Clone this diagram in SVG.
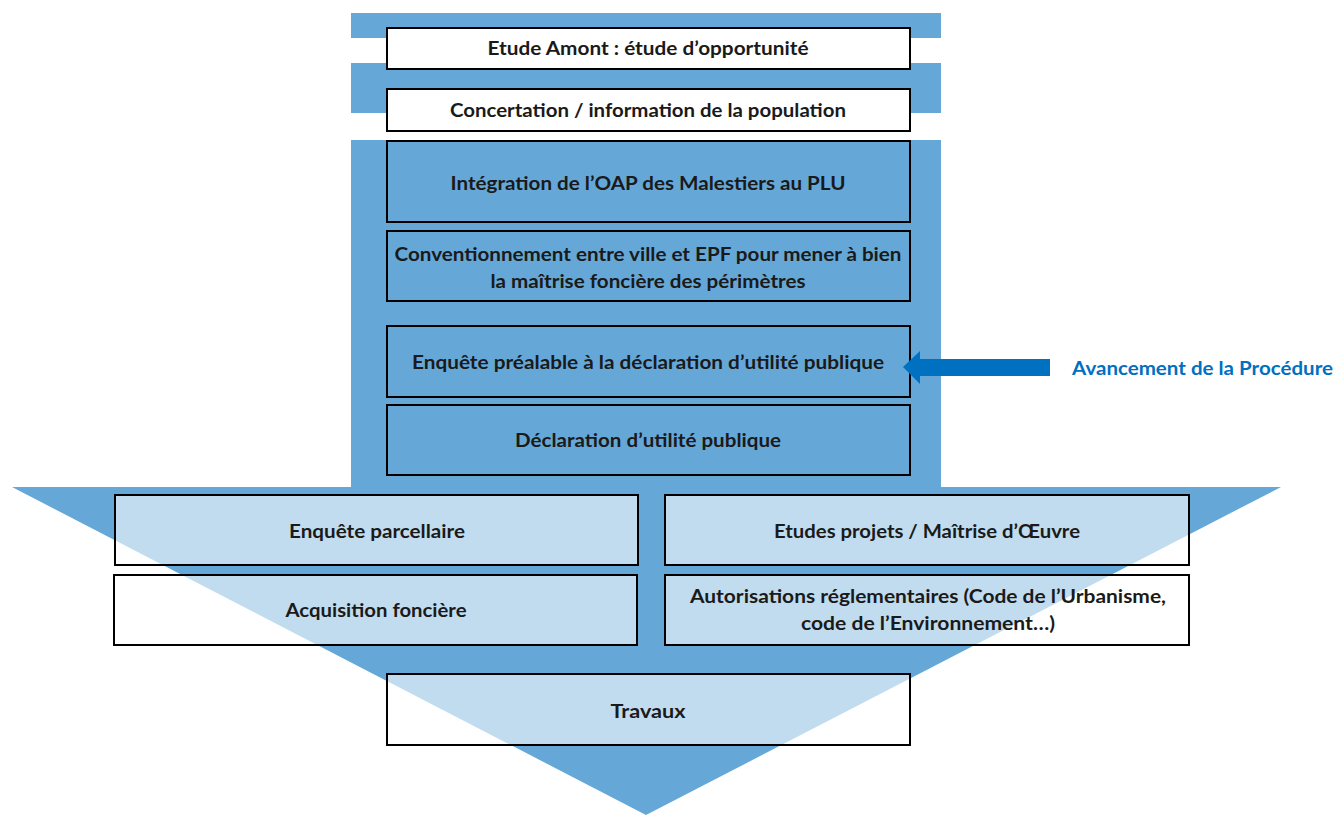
<svg xmlns="http://www.w3.org/2000/svg" width="1336" height="816" viewBox="0 0 1336 816">
<style>
.band{fill:#65a8d8}
.box{stroke:#000;stroke-width:2}
.w{fill:#fff}
.t{fill:none}
.s{fill:#fff;fill-opacity:0.6}
.lbl{font-family:Lato,"Open Sans",sans-serif;font-weight:700;font-size:18px;fill:#1a1a1a;text-anchor:middle}
.arr{fill:#0070c0}
.cap{font-family:Lato,"Open Sans",sans-serif;font-weight:700;font-size:18px;fill:#0070c0}
</style>
<g id="background">
<rect class="band" x="351" y="13" width="590" height="25"/>
<rect class="band" x="351" y="63" width="590" height="50"/>
<rect class="band" x="351" y="140" width="590" height="348"/>
<polygon class="band" points="12,487 1281,487 646,815"/>
</g>
<g id="n1"><rect class="box w" x="387" y="28" width="523" height="41"/><text class="lbl" x="648" y="55" textLength="321" lengthAdjust="spacingAndGlyphs">Etude Amont : étude d’opportunité</text></g>
<g id="n2"><rect class="box w" x="387" y="89" width="523" height="42"/><text class="lbl" x="648" y="117" textLength="396" lengthAdjust="spacingAndGlyphs">Concertation / information de la population</text></g>
<g id="n3"><rect class="box t" x="387" y="141" width="523" height="81"/><text class="lbl" x="648" y="190" textLength="395" lengthAdjust="spacingAndGlyphs">Intégration de l’OAP des Malestiers au PLU</text></g>
<g id="n4"><rect class="box t" x="387" y="231" width="523" height="70"/><text class="lbl" x="648" y="261" textLength="507" lengthAdjust="spacingAndGlyphs">Conventionnement entre ville et EPF pour mener à bien</text><text class="lbl" x="648" y="288" textLength="315" lengthAdjust="spacingAndGlyphs">la maîtrise foncière des périmètres</text></g>
<g id="n5"><rect class="box t" x="387" y="326" width="523" height="71"/><text class="lbl" x="648" y="369" textLength="472" lengthAdjust="spacingAndGlyphs">Enquête préalable à la déclaration d’utilité publique</text></g>
<g id="n6"><rect class="box t" x="387" y="405" width="523" height="70"/><text class="lbl" x="648" y="447" textLength="266" lengthAdjust="spacingAndGlyphs">Déclaration d’utilité publique</text></g>
<g id="n7"><rect class="box s" x="115" y="495" width="523" height="70"/><text class="lbl" x="377" y="538" textLength="176" lengthAdjust="spacingAndGlyphs">Enquête parcellaire</text></g>
<g id="n8"><rect class="box s" x="665" y="495" width="524" height="70"/><text class="lbl" x="927" y="538" textLength="306" lengthAdjust="spacingAndGlyphs">Etudes projets / Maîtrise d’Œuvre</text></g>
<g id="n9"><rect class="box s" x="114" y="575" width="523" height="70"/><text class="lbl" x="376" y="617" textLength="181" lengthAdjust="spacingAndGlyphs">Acquisition foncière</text></g>
<g id="n10"><rect class="box s" x="665" y="575" width="524" height="70"/><text class="lbl" x="928" y="603" textLength="476" lengthAdjust="spacingAndGlyphs">Autorisations réglementaires (Code de l’Urbanisme,</text><text class="lbl" x="928" y="630" textLength="254" lengthAdjust="spacingAndGlyphs">code de l’Environnement…)</text></g>
<g id="n11"><rect class="box s" x="387" y="674" width="523" height="71"/><text class="lbl" x="648" y="718" textLength="75" lengthAdjust="spacingAndGlyphs">Travaux</text></g>
<g id="connectors">
<polygon class="arr" points="903,367 920,351 920,359 1050,359 1050,376 920,376 920,384"/>
</g>
<g id="caption"><text class="cap" x="1072" y="375" textLength="261" lengthAdjust="spacingAndGlyphs">Avancement de la Procédure</text></g>
</svg>
